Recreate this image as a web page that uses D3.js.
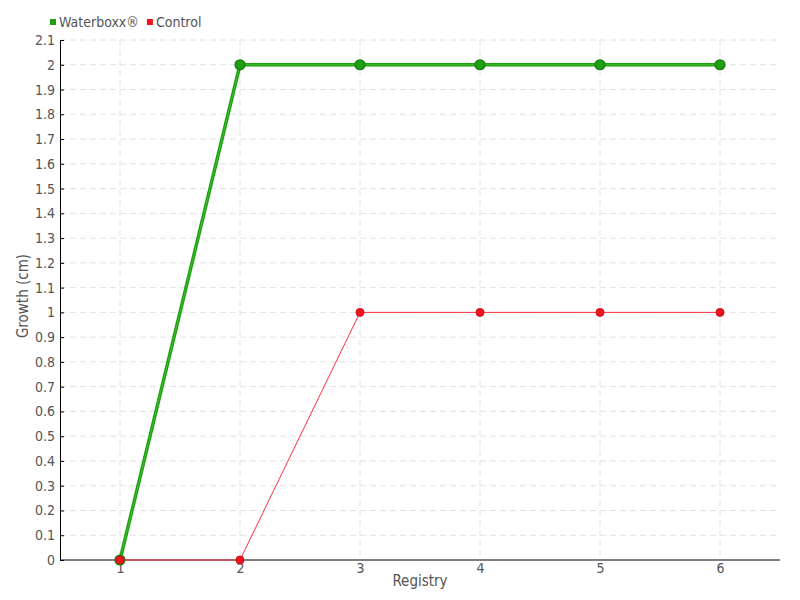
<!DOCTYPE html>
<html><head><meta charset="utf-8">
<script src="https://cdn.jsdelivr.net/npm/d3@7"></script>
<style>
body{margin:0;background:#fff;}
text{font-family:"Liberation Sans Narrow","DejaVu Sans Condensed",sans-serif;}
</style></head>
<body><svg id="c" width="800" height="600"></svg>
<script>
const registries = [1,2,3,4,5,6];
const waterboxx = [0,2,2,2,2,2];
const control = [0,0,1,1,1,1];
const yTicks = d3.range(0,22).map(i=>+(i*0.1).toFixed(1));
const seriesNames = ["Waterboxx®","Control"];
const colors = ["#1f9e12","#f0141e"];

const svg = d3.select("#c");
const L=60,R=780,T=40,B=560;
const x = d3.scaleLinear().domain([0.5,6.5]).range([L,R]);
const y = d3.scaleLinear().domain([0,2.1]).range([B,T]);

// grid
svg.append("g").selectAll("line").data(yTicks.slice(1)).join("line")
  .attr("x1",L).attr("x2",R).attr("y1",d=>y(d)).attr("y2",d=>y(d))
  .attr("stroke","#e2e2e2").attr("stroke-dasharray","6,4");
svg.append("g").selectAll("line").data(registries).join("line")
  .attr("x1",d=>x(d)).attr("x2",d=>x(d)).attr("y1",T).attr("y2",B)
  .attr("stroke","#e2e2e2").attr("stroke-dasharray","6,4");

// axes
const yAx = svg.append("g").attr("transform",`translate(${L},0)`)
  .call(d3.axisLeft(y).tickValues(yTicks).tickSize(-4).tickPadding(5).tickFormat(d=>d3.format("")(d)));
yAx.select(".domain").attr("stroke","#000");
yAx.selectAll(".tick line").attr("stroke","#000");
yAx.selectAll("text").attr("font-size",14).attr("fill","#555");

const xAx = svg.append("g").attr("transform",`translate(0,${B})`)
  .call(d3.axisBottom(x).tickValues(registries).tickSize(0).tickPadding(3).tickFormat(d3.format("d")));
xAx.select(".domain").attr("stroke","#000").attr("d",`M${L},0H${R}`);
xAx.selectAll("text").attr("font-size",14).attr("fill","#555");

svg.append("text").attr("x",(L+R)/2).attr("y",586).attr("text-anchor","middle")
  .attr("font-size",15).attr("fill","#555").text("Registry");
svg.append("text").attr("transform",`translate(28,${(T+B)/2 - 4}) rotate(-90)`).attr("text-anchor","middle")
  .attr("font-size",15).attr("fill","#555").text("Growth (cm)");

// lines
const line = d3.line().x((d,i)=>x(registries[i])).y(d=>y(d));
svg.append("path").datum(waterboxx).attr("d",line).attr("fill","none")
  .attr("stroke","#1f9e12").attr("stroke-width",3.5);
svg.append("path").datum(waterboxx).attr("d",line).attr("fill","none")
  .attr("stroke","#3cc02a").attr("stroke-width",1);
svg.append("g").selectAll("circle").data(waterboxx).join("circle")
  .attr("cx",(d,i)=>x(registries[i])).attr("cy",d=>y(d)).attr("r",5)
  .attr("fill","#1f9e12").attr("stroke","#137a0b").attr("stroke-width",1.2);

svg.append("path").datum(control).attr("d",line).attr("fill","none")
  .attr("stroke","#ff3040").attr("stroke-width",1);
svg.append("g").selectAll("circle").data(control).join("circle")
  .attr("cx",(d,i)=>x(registries[i])).attr("cy",d=>y(d)).attr("r",4)
  .attr("fill","#f0141e").attr("stroke","#d01018").attr("stroke-width",1);

// legend
const lg = svg.append("g");
let lx=50;
seriesNames.forEach((n,i)=>{
  lg.append("rect").attr("x",lx).attr("y",19).attr("width",6).attr("height",6).attr("fill",colors[i]);
  const t = lg.append("text").attr("x",lx+9).attr("y",27).attr("font-size",14).attr("fill","#555").text(n);
  lx += 9 + t.node().getComputedTextLength() + 8;
});
</script></body></html>
